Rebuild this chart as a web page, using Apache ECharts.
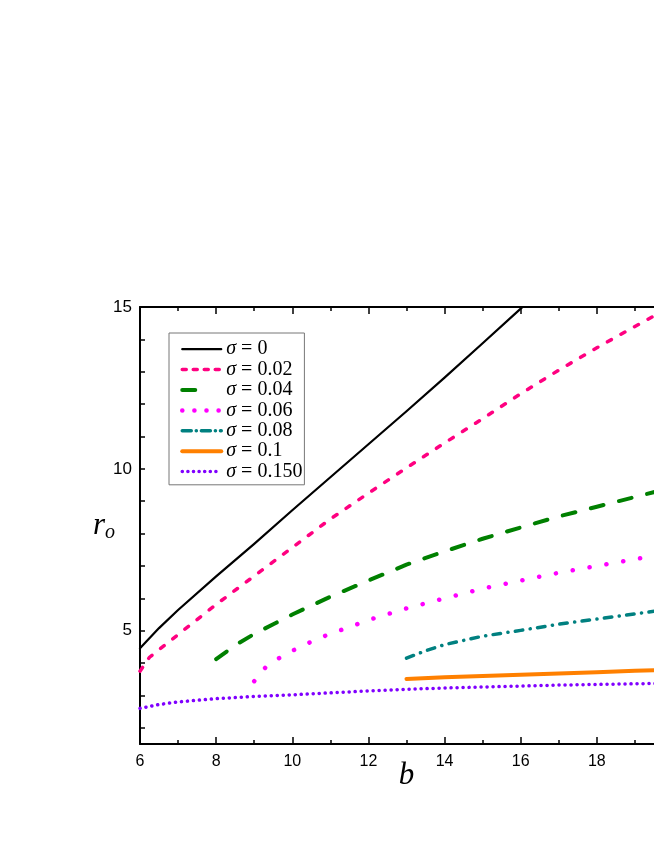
<!DOCTYPE html>
<html>
<head>
<meta charset="utf-8">
<script src="https://cdn.jsdelivr.net/npm/echarts@6/dist/echarts.min.js"></script>
<style>
html, body { margin: 0; padding: 0; background: #fff; }
#main { width: 654px; height: 846px; }
</style>
</head>
<body>
<div id="main"></div>
<script>
// sigma labels and colours
var sigmaNames = ['σ = 0', 'σ = 0.02', 'σ = 0.04', 'σ = 0.06', 'σ = 0.08', 'σ = 0.1', 'σ = 0.150'];
var sigmaColors = ['#000000', '#ff0080', '#008000', '#ff00ff', '#008080', '#ff8000', '#8000ff'];

// b values and r_o values
var b0 = [6, 6.5, 7, 8, 9, 10, 11, 12, 13, 14, 15, 16, 16.05];
var r0 = [4.46, 5.08, 5.64, 6.68, 7.68, 8.72, 9.74, 10.76, 11.78, 12.82, 13.88, 14.95, 15.0];

var b002 = [6, 6.25, 7, 8, 9, 10, 11, 12, 13, 14, 15, 16, 17, 18, 19, 20];
var r002 = [3.75, 4.18, 4.88, 5.81, 6.69, 7.57, 8.45, 9.25, 10.03, 10.8, 11.55, 12.32, 13.05, 13.74, 14.4, 15.05];

var b004 = [8, 8.5, 9, 9.5, 10, 11, 12, 13, 14, 15, 16, 17, 18, 19, 20];
var r004 = [4.12, 4.55, 4.9, 5.2, 5.5, 6.05, 6.55, 7.04, 7.45, 7.84, 8.19, 8.53, 8.83, 9.13, 9.43];

var b006 = [9, 9.3, 9.75, 10, 10.5, 11, 11.5, 12, 13, 14, 15, 16, 17, 18, 19, 20];
var r006 = [3.44, 3.87, 4.23, 4.38, 4.66, 4.91, 5.11, 5.33, 5.69, 6.0, 6.3, 6.55, 6.79, 7.0, 7.21, 7.42];

var b008 = [13, 13.5, 14, 15, 16, 17, 18, 19, 20];
var r008 = [4.15, 4.38, 4.57, 4.83, 5.01, 5.2, 5.36, 5.52, 5.68];

var b01 = [13, 14, 15, 16, 17, 18, 19, 20];
var r01 = [3.51, 3.56, 3.6, 3.64, 3.68, 3.72, 3.76, 3.79];

var b015 = [6, 6.5, 7, 8, 9, 10, 11, 12, 13, 14, 15, 16, 17, 18, 19, 20];
var r015 = [2.6, 2.72, 2.8, 2.9, 2.97, 3.02, 3.08, 3.14, 3.19, 3.23, 3.26, 3.29, 3.32, 3.34, 3.36, 3.38];

// axis ticks
var yTickValues = [2, 3, 4, 5, 6, 7, 8, 9, 10, 11, 12, 13, 14, 15];
var yLabelValues = [5, 10, 15];

var allB = [b0, b002, b004, b006, b008, b01, b015];
var allR = [r0, r002, r004, r006, r008, r01, r015];

// line look for each curve
var widths = [2.2, 3.5, 4, 4.5, 3.5, 4, 3.5];
var dashes = ['solid', [4.5, 11], [13, 16], [0.1, 17], [7.5, 7.5, 0.1, 7.4], 'solid', [0.1, 5.9]];
var legendDashes = ['solid', [4, 7], [13, 40], [0.1, 12], [9, 5, 0.1, 5], 'solid', [0.1, 5.5]];

var myChart = echarts.init(document.getElementById('main'));

function pairs(bs, rs) {
    return bs.map(function (b, i) { return [b, rs[i]]; });
}

var series = sigmaNames.map(function (name, i) {
    return {
        name: name,
        type: 'line',
        data: pairs(allB[i], allR[i]),
        symbol: 'none',
        smooth: false,
        color: sigmaColors[i],
        lineStyle: {
            color: sigmaColors[i],
            width: widths[i],
            type: dashes[i],
            cap: 'round',
            join: 'round'
        }
    };
});

var legendData = sigmaNames.map(function (name, i) {
    return {
        name: name,
        itemStyle: { opacity: 0 },
        lineStyle: { type: legendDashes[i], width: widths[i], cap: 'round' }
    };
});

var xCommon = {
    type: 'value',
    min: 6,
    max: 20,
    interval: 2,
    splitLine: { show: false },
    axisLine: { lineStyle: { color: '#000', width: 2 } },
    axisTick: { inside: true, length: 7, lineStyle: { color: '#000', width: 1.5 } },
    minorTick: { show: true, splitNumber: 2, length: 4, lineStyle: { color: '#000', width: 1.5 } }
};

option = {
    animation: false,
    backgroundColor: '#fff',
    grid: { left: 140, top: 307, right: -19, bottom: 102, containLabel: false, outerBoundsMode: 'none' },
    legend: {
        orient: 'vertical',
        left: 169,
        top: 333,
        padding: [6, 2, 3, 11],
        itemGap: 0,
        itemWidth: 39,
        itemHeight: 14,
        borderColor: '#777',
        borderWidth: 1,
        itemStyle: { opacity: 0 },
        data: legendData,
        formatter: function (name) {
            return '{s|σ}' + name.slice(1);
        },
        textStyle: {
            fontFamily: 'Liberation Serif',
            fontSize: 20,
            color: '#000',
            lineHeight: 20.4,
            rich: {
                s: { fontFamily: 'Liberation Serif', fontStyle: 'italic', fontSize: 20, color: '#000', lineHeight: 20.4 }
            }
        }
    },
    xAxis: [
        Object.assign({}, xCommon, {
            position: 'bottom',
            name: 'b',
            nameLocation: 'middle',
            nameGap: 16,
            nameMoveOverlap: false,
            nameTextStyle: { fontFamily: 'Liberation Serif', fontStyle: 'italic', fontSize: 31, color: '#000' },
            axisLabel: { margin: 10, fontFamily: 'Liberation Sans', fontSize: 16, color: '#000' }
        }),
        Object.assign({}, xCommon, {
            position: 'top',
            axisLabel: { show: false }
        })
    ],
    yAxis: {
        type: 'value',
        min: 1.5,
        max: 15,
        splitLine: { show: false },
        axisLine: { show: true, lineStyle: { color: '#000', width: 2 } },
        axisTick: {
            show: true,
            inside: true,
            length: 5,
            customValues: yTickValues,
            lineStyle: { color: '#000', width: 1.5 }
        },
        axisLabel: {
            margin: 8,
            customValues: yLabelValues,
            fontFamily: 'Liberation Sans',
            fontSize: 17,
            color: '#000'
        },
        name: '{r|r}{o|o}',
        nameLocation: 'middle',
        nameRotate: 0,
        nameGap: 25,
        nameMoveOverlap: false,
        nameTextStyle: {
            rich: {
                r: { fontFamily: 'Liberation Serif', fontStyle: 'italic', fontSize: 31, color: '#000' },
                o: { fontFamily: 'Liberation Serif', fontStyle: 'italic', fontSize: 20, color: '#000', padding: [14, 0, 0, 0] }
            }
        }
    },
    series: series
};

myChart.setOption(option);
</script>
</body>
</html>
